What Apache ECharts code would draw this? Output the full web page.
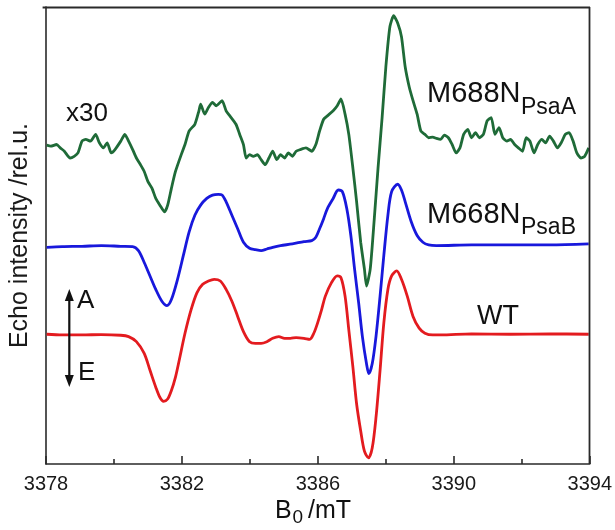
<!DOCTYPE html>
<html>
<head>
<meta charset="utf-8">
<script src="https://cdn.jsdelivr.net/npm/echarts@6/dist/echarts.min.js"></script>
<style>html,body{margin:0;padding:0;background:#fff}#c{width:615px;height:530px}</style>
</head>
<body>
<div id="c"></div>
<script>
// Field axis ticks (mT)
const fieldTicks = [3378, 3382, 3386, 3390, 3394];

// M688N_PsaA (x30), green trace
const greenField = [3378.02,3378.14,3378.31,3378.42,3378.54,3378.71,3378.83,3378.94,3379.06,3379.17,3379.31,3379.46,3379.57,3379.69,3379.80,3379.92,3380.03,3380.20,3380.32,3380.43,3380.55,3380.66,3380.78,3380.89,3381.00,3381.12,3381.23,3381.35,3381.49,3381.58,3381.69,3381.81,3381.98,3382.09,3382.21,3382.38,3382.50,3382.55,3382.67,3382.78,3382.90,3383.01,3383.18,3383.30,3383.41,3383.59,3383.70,3383.81,3383.89,3383.99,3384.10,3384.22,3384.33,3384.45,3384.56,3384.67,3384.79,3384.90,3385.02,3385.13,3385.25,3385.36,3385.48,3385.65,3385.82,3385.94,3386.05,3386.17,3386.28,3386.45,3386.57,3386.68,3386.80,3386.91,3387.03,3387.14,3387.26,3387.37,3387.43,3387.54,3387.66,3387.77,3387.89,3388.00,3388.12,3388.23,3388.35,3388.46,3388.57,3388.69,3388.80,3388.92,3389.03,3389.15,3389.26,3389.38,3389.49,3389.61,3389.72,3389.84,3389.95,3390.07,3390.18,3390.29,3390.41,3390.52,3390.64,3390.75,3390.87,3390.98,3391.10,3391.21,3391.33,3391.44,3391.56,3391.67,3391.79,3391.90,3392.02,3392.13,3392.24,3392.36,3392.47,3392.59,3392.70,3392.82,3392.93,3393.05,3393.16,3393.28,3393.39,3393.51,3393.62,3393.74,3393.85,3393.97];
const greenEcho = [69.77,69.54,69.91,69.17,68.44,66.96,67.33,68.07,70.65,71.02,70.65,72.12,70.28,69.17,70.28,68.07,68.80,70.65,72.12,70.65,68.80,66.96,65.49,64.01,61.80,60.32,58.11,56.64,55.16,56.64,60.32,64.01,67.70,69.91,72.86,74.34,77.29,78.76,76.55,78.02,79.13,78.39,79.50,77.29,76.18,74.34,72.12,69.91,66.96,67.70,67.33,67.70,66.59,65.49,66.96,68.44,66.59,67.70,66.96,68.07,67.33,68.44,68.80,69.17,68.44,69.91,72.86,75.44,76.18,77.29,78.39,79.87,76.55,72.12,64.75,57.37,48.52,42.63,38.94,42.63,53.69,64.75,75.81,86.87,95.72,98.08,96.46,93.51,86.87,82.45,79.50,76.55,72.86,72.12,71.39,71.53,71.24,71.02,71.97,71.39,69.91,68.07,69.17,72.12,73.23,71.39,72.49,71.39,72.12,75.07,75.81,72.12,73.60,71.39,70.65,71.02,69.91,69.17,68.44,71.39,70.65,68.07,69.91,71.02,70.28,71.75,70.65,69.17,70.28,72.12,72.49,70.65,68.07,66.96,67.33,69.17];

// M668N_PsaB, blue trace
const blueField = [3378.02,3378.48,3379.06,3379.63,3380.20,3380.55,3380.72,3380.89,3381.06,3381.23,3381.41,3381.56,3381.69,3381.87,3382.04,3382.21,3382.38,3382.55,3382.73,3382.90,3383.07,3383.18,3383.30,3383.47,3383.64,3383.81,3383.99,3384.16,3384.33,3384.50,3384.67,3384.90,3385.25,3385.59,3385.82,3385.94,3386.05,3386.17,3386.28,3386.45,3386.60,3386.72,3386.85,3386.97,3387.08,3387.20,3387.31,3387.43,3387.50,3387.60,3387.71,3387.83,3387.94,3388.06,3388.17,3388.35,3388.46,3388.57,3388.75,3388.92,3389.09,3389.26,3389.49,3390.52,3391.67,3392.82,3393.97];
const blueEcho = [47.42,47.57,47.64,47.79,47.64,47.57,46.68,44.10,41.15,38.20,35.62,34.66,35.99,40.41,45.58,50.74,54.42,56.64,58.11,58.85,59.00,58.85,57.37,54.42,51.47,48.52,47.20,46.90,46.68,47.05,47.42,47.79,48.16,48.67,48.89,49.63,51.47,53.69,55.90,58.11,59.96,59.59,55.90,50.00,42.63,35.25,27.88,21.98,19.76,21.98,27.88,36.73,45.58,54.42,59.59,61.21,59.96,57.37,52.95,50.00,48.52,47.94,47.79,47.94,47.94,47.94,48.16];

// WT, red trace
const redField = [3378.02,3378.48,3379.06,3379.63,3380.20,3380.43,3380.66,3380.89,3381.06,3381.23,3381.35,3381.46,3381.58,3381.69,3381.81,3381.92,3382.09,3382.27,3382.44,3382.61,3382.78,3382.95,3383.13,3383.30,3383.47,3383.64,3383.81,3383.99,3384.16,3384.33,3384.50,3384.67,3384.85,3385.02,3385.19,3385.36,3385.59,3385.76,3385.88,3385.99,3386.11,3386.22,3386.40,3386.57,3386.68,3386.80,3386.91,3387.03,3387.14,3387.26,3387.37,3387.49,3387.60,3387.71,3387.83,3387.94,3388.06,3388.17,3388.32,3388.46,3388.63,3388.80,3388.98,3389.15,3389.38,3389.61,3390.52,3391.67,3392.82,3393.97];
const redEcho = [28.39,28.24,28.24,28.32,28.17,27.88,26.77,24.19,20.50,16.81,14.60,13.72,14.23,16.08,19.03,22.71,28.61,33.78,37.46,39.31,40.04,40.41,40.04,38.20,35.62,32.30,28.98,26.77,26.40,26.40,26.77,27.51,27.88,27.51,27.51,27.65,27.51,27.29,28.61,30.83,33.78,36.73,39.68,41.15,40.78,36.73,29.35,21.24,13.13,7.23,2.80,1.33,3.54,10.18,20.50,30.83,38.20,41.15,42.26,40.41,36.73,32.30,29.72,28.61,28.24,28.24,28.47,28.39,28.47,28.39];

const FONT = '"Liberation Sans", Arial, Helvetica, sans-serif';
const AX = '#2a2a2a';
const Y_MIN = 0, Y_MAX = 100;
const X_MIN = fieldTicks[0], X_MAX = fieldTicks[fieldTicks.length - 1];
const pair = (xs, ys) => xs.map((x, i) => [x, ys[i]]);

function txt(text, x, y, size) {
  return { type: 'text', x: x, y: y, z: 100,
    style: { text: text, fontSize: size, fontFamily: FONT, fill: '#111',
      align: 'left', verticalAlign: 'middle', textAlign: 'left', textVerticalAlign: 'middle' } };
}

const chart = echarts.init(document.getElementById('c'), null, { renderer: 'canvas' });
chart.setOption({
  backgroundColor: '#fff',
  animation: false,
  grid: { left: 42.6, right: 25.2, top: 7, bottom: 66 },
  xAxis: {
    type: 'value', min: X_MIN, max: X_MAX, interval: 4,
    axisLine: { show: true, lineStyle: { color: AX, width: 1.6 } },
    axisTick: { show: true, inside: true, length: 8, lineStyle: { color: AX, width: 1.6 } },
    minorTick: { show: true, splitNumber: 2, length: 5, lineStyle: { color: AX, width: 1.6 } },
    axisLabel: { fontSize: 20, fontFamily: FONT, color: '#1a1a1a', margin: 10, formatter: v => String(v) },
    splitLine: { show: false }, minorSplitLine: { show: false }
  },
  yAxis: {
    type: 'value', min: Y_MIN, max: Y_MAX,
    axisLine: { show: true, onZero: false, lineStyle: { color: AX, width: 1.6 } },
    axisTick: { show: false }, axisLabel: { show: false }, splitLine: { show: false },
    name: 'Echo intensity /rel.u.', nameLocation: 'middle', nameRotate: 90, nameGap: 13,
    nameTextStyle: { fontSize: 25, fontFamily: FONT, color: '#1a1a1a' }
  },
  series: [
    { name: 'M688N PsaA', type: 'line', data: pair(greenField, greenEcho), showSymbol: false, smooth: 0.2,
      lineStyle: { color: '#1f6b38', width: 2.8 }, itemStyle: { color: '#1f6b38' } },
    { name: 'M668N PsaB', type: 'line', data: pair(blueField, blueEcho), showSymbol: false, smooth: 0.3,
      lineStyle: { color: '#1818dc', width: 2.8 }, itemStyle: { color: '#1818dc' } },
    { name: 'WT', type: 'line', data: pair(redField, redEcho), showSymbol: false, smooth: 0.3,
      lineStyle: { color: '#e31b1f', width: 2.8 }, itemStyle: { color: '#e31b1f' } }
  ],
  graphic: [
    { type: 'line', z: 100, shape: { x1: 42.6, y1: 7.5, x2: 590, y2: 7.5 }, style: { stroke: AX, lineWidth: 1.8 } },
    { type: 'line', z: 100, shape: { x1: 589.5, y1: 7, x2: 589.5, y2: 464 }, style: { stroke: AX, lineWidth: 1.8 } },
    txt('x30', 66, 114, 26),
    txt('M688N', 427, 94, 29),
    txt('PsaA', 521, 107.5, 23),
    txt('M668N', 427, 214.5, 29),
    txt('PsaB', 521, 228, 23),
    txt('WT', 477, 317, 27),
    txt('A', 77, 301, 26),
    txt('E', 78, 372.5, 26),
    txt('B', 275, 511, 25),
    txt('0', 292.5, 518, 19),
    txt('/mT', 308, 511, 25),
    { type: 'line', z: 100, shape: { x1: 69.3, y1: 298, x2: 69.3, y2: 379 }, style: { stroke: '#111', lineWidth: 2.2 } },
    { type: 'polygon', z: 100, shape: { points: [[69.3, 289], [64.8, 301], [73.8, 301]] }, style: { fill: '#111' } },
    { type: 'polygon', z: 100, shape: { points: [[69.3, 387], [64.8, 375], [73.8, 375]] }, style: { fill: '#111' } }
  ]
});
</script>
</body>
</html>
